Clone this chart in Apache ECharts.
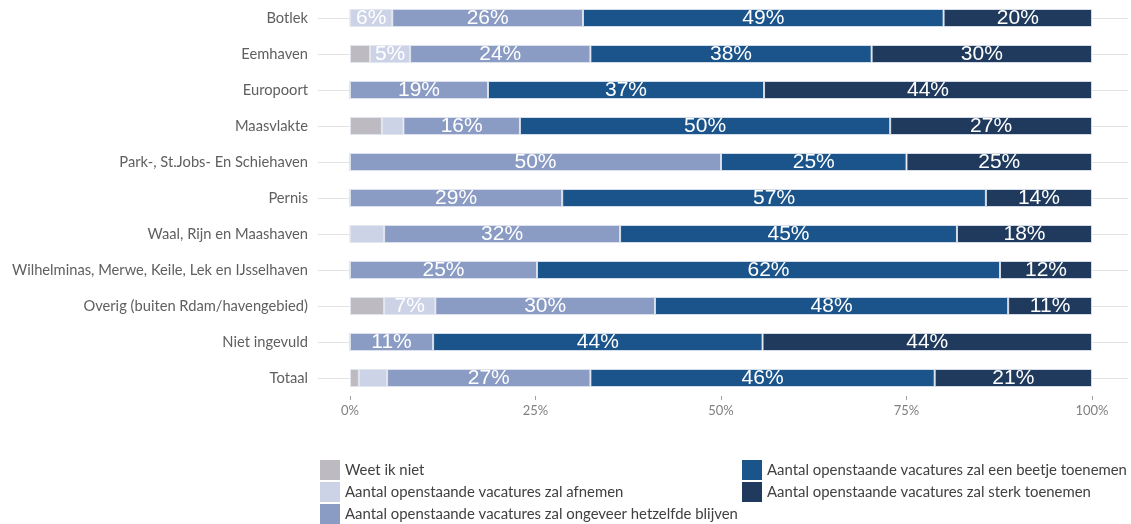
<!DOCTYPE html>
<html>
<head>
<meta charset="utf-8">
<script src="https://cdn.jsdelivr.net/npm/echarts@6/dist/echarts.min.js"></script>
<style>
  html, body { margin: 0; padding: 0; background: #ffffff; }
  #chart { width: 1131px; height: 524px; }
</style>
</head>
<body>
<div id="chart"></div>
<script>
// Havengebieden (top to bottom)
const categories = [
  'Botlek',
  'Eemhaven',
  'Europoort',
  'Maasvlakte',
  'Park-, St.Jobs- En Schiehaven',
  'Pernis',
  'Waal, Rijn en Maashaven',
  'Wilhelminas, Merwe, Keile, Lek en IJsselhaven',
  'Overig (buiten Rdam/havengebied)',
  'Niet ingevuld',
  'Totaal'
];

const seriesNames = [
  'Weet ik niet',
  'Aantal openstaande vacatures zal afnemen',
  'Aantal openstaande vacatures zal ongeveer hetzelfde blijven',
  'Aantal openstaande vacatures zal een beetje toenemen',
  'Aantal openstaande vacatures zal sterk toenemen'
];

// Share of respondents (%) per answer
const weetIkNiet   = [0,    2.7,  0,    4.3,  0,    0,    0,    0,    4.6,  0,    1.2];
const afnemen      = [5.7,  5.4,  0,    2.9,  0,    0,    4.6,  0,    6.9,  0,    3.8];
const hetzelfde    = [25.7, 24.3, 18.6, 15.7, 50.0, 28.6, 31.8, 25.2, 29.6, 11.2, 27.4];
const beetjeToe    = [48.6, 37.9, 37.2, 49.9, 25.0, 57.1, 45.4, 62.4, 47.6, 44.4, 46.4];
const sterkToe     = [20.0, 29.7, 44.2, 27.2, 25.0, 14.3, 18.2, 12.4, 11.3, 44.4, 21.2];

const xTicks = [0, 25, 50, 75, 100];

const colors = ['#bdbac2', '#cdd3e7', '#8a9bc4', '#1b548b', '#1f3a5c'];
const valueSets = [weetIkNiet, afnemen, hetzelfde, beetjeToe, sterkToe];

const chart = echarts.init(document.getElementById('chart'), null, { renderer: 'canvas' });

const series = seriesNames.map((name, i) => ({
  name: name,
  type: 'bar',
  stack: 'totaal',
  yAxisIndex: 0,
  barWidth: 18,
  data: valueSets[i],
  itemStyle: {
    color: colors[i],
    borderColor: 'rgba(225,229,240,0.85)',
    borderWidth: 1
  },
  label: {
    show: true,
    position: 'inside',
    color: '#ffffff',
    fontFamily: 'Liberation Sans, Arial, sans-serif',
    fontSize: 21,
    formatter: p => (p.value >= 5 ? Math.round(p.value) + '%' : '')
  },
  emphasis: { disabled: true }
}));

const legendText = {
  color: '#404040',
  fontFamily: 'Lato, "Open Sans", sans-serif',
  fontSize: 14.9,
  lineHeight: 18
};

const legendBase = {
  orient: 'vertical',
  top: 460,
  height: 120,
  padding: 0,
  itemWidth: 20,
  itemHeight: 20,
  itemGap: 2,
  icon: 'rect',
  itemStyle: { borderWidth: 0 },
  textStyle: legendText,
  selectedMode: false
};

chart.setOption({
  animation: false,
  color: colors,
  grid: { left: 350, right: 39, top: 0, bottom: 128, containLabel: false },
  xAxis: {
    type: 'value',
    min: 0,
    max: 100,
    interval: 25,
    axisLine: { show: false },
    axisTick: { show: true, length: 4, lineStyle: { color: '#a0a0a0' } },
    splitLine: { show: false },
    axisLabel: {
      formatter: v => xTicks.includes(v) ? v + '%' : '',
      color: '#808080',
      fontFamily: 'Lato, "Open Sans", sans-serif',
      fontSize: 13,
      margin: 8
    }
  },
  yAxis: [
    {
      type: 'category',
      data: categories,
      inverse: true,
      position: 'left',
      offset: 32,
      axisLine: { show: false },
      axisTick: { show: true, alignWithLabel: true, length: 6, lineStyle: { color: '#555555' } },
      axisLabel: {
        color: '#5f5f5f',
        fontFamily: 'Lato, "Open Sans", sans-serif',
        fontSize: 14.7,
        margin: 10
      },
      splitLine: { show: false }
    },
    {
      // light guide line behind every bar row
      type: 'category',
      data: categories,
      inverse: true,
      position: 'left',
      offset: 32,
      axisLine: { show: false },
      axisTick: { show: true, inside: true, alignWithLabel: true, length: 810, lineStyle: { color: '#e3e3e3' } },
      axisLabel: { show: false },
      splitLine: { show: false }
    }
  ],
  legend: [
    Object.assign({}, legendBase, { left: 320, data: seriesNames.slice(0, 3) }),
    Object.assign({}, legendBase, { left: 742, data: seriesNames.slice(3) })
  ],
  series: series
});
</script>
</body>
</html>
